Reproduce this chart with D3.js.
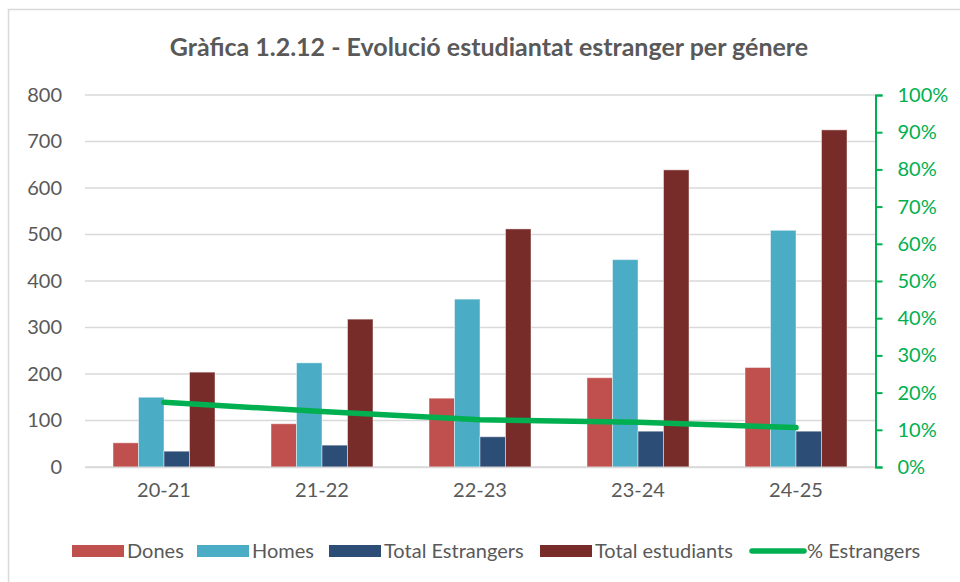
<!DOCTYPE html>
<head>
  <meta charset="utf-8">
  <script src="https://d3js.org/d3.v7.min.js"></script>
  <style>
    body { margin:0; background:#fff; }
    text { font-family: Lato, "Open Sans", sans-serif; fill:#595959; }
  </style>
</head>

<body>
  <script>
    // chart data
    var cursos = ["20-21", "21-22", "22-23", "23-24", "24-25"];
    var dones = [52, 93, 148, 192, 214];
    var homes = [150, 224, 361, 446, 509];
    var totalEstrangers = [34, 47, 65, 77, 77];
    var totalEstudiants = [204, 318, 512, 639, 725];
    var pctEstrangers = [0.174, 0.149, 0.127, 0.12, 0.106];
    var leftTicks = [0, 100, 200, 300, 400, 500, 600, 700, 800];
    var rightTicks = [0, 0.1, 0.2, 0.3, 0.4, 0.5, 0.6, 0.7, 0.8, 0.9, 1];

    var series = [
      {name: "Dones", values: dones, color: "#C0504D"},
      {name: "Homes", values: homes, color: "#4BACC6"},
      {name: "Total Estrangers", values: totalEstrangers, color: "#2C4D75"},
      {name: "Total estudiants", values: totalEstudiants, color: "#772C2A"}
    ];

    var svg = d3.select("body").append("svg")
      .attr("width", 960)
      .attr("height", 582)

    // chart area border (only left and top show)
    svg.append("rect")
      .attr("x", 8.5).attr("y", 9.5)
      .attr("width", 1000).attr("height", 700)
      .attr("fill", "none").attr("stroke", "#D9D9D9").attr("stroke-width", 1.5)

    var x0 = d3.scaleBand().domain(cursos).range([85, 875]).padding(0)
    var groupW = 102
    var x1 = d3.scaleBand().domain(series.map(function(s){ return s.name })).range([0, groupW])
    var y = d3.scaleLinear().domain([0, 800]).range([467, 95])
    var yR = d3.scaleLinear().domain([0, 1]).range([467, 95])

    // gridlines
    svg.append("g").selectAll("line")
      .data(leftTicks)
      .enter().append("line")
      .attr("x1", 85).attr("x2", 875)
      .attr("y1", function(d){ return y(d) }).attr("y2", function(d){ return y(d) })
      .attr("stroke", "#D9D9D9").attr("stroke-width", 1.5)

    // left axis
    var gl = svg.append("g").attr("transform", "translate(85,0)")
      .call(d3.axisLeft(y).tickValues(leftTicks).tickSize(0).tickPadding(23))
    gl.select(".domain").remove()
    gl.selectAll("text").style("font-size", "20px").attr("fill", "#595959")

    // bars
    series.forEach(function(s){
      svg.append("g").selectAll("rect")
        .data(s.values)
        .enter().append("rect")
        .attr("x", function(d, i){ return x0(cursos[i]) + (x0.bandwidth() - groupW) / 2 + x1(s.name) })
        .attr("y", function(d){ return y(d) })
        .attr("width", x1.bandwidth())
        .attr("height", function(d){ return y(0) - y(d) })
        .attr("fill", s.color)
        .attr("stroke", "rgba(255,255,255,0.45)").attr("stroke-width", 1)
    })

    // bottom axis
    var gb = svg.append("g").attr("transform", "translate(0,467)")
      .call(d3.axisBottom(x0).tickSize(0).tickPadding(16))
    gb.select(".domain").attr("stroke", "#D9D9D9").attr("stroke-width", 1.5)
    gb.selectAll("text").style("font-size", "20px").attr("fill", "#595959")

    // line % Estrangers
    var line = d3.line()
      .x(function(d, i){ return x0(cursos[i]) + x0.bandwidth() / 2 })
      .y(function(d){ return yR(d) })
    svg.append("path")
      .datum(pctEstrangers)
      .attr("d", line)
      .attr("fill", "none")
      .attr("stroke", "#00B050").attr("stroke-width", 5.5)
      .attr("stroke-linecap", "round").attr("stroke-linejoin", "round")

    // right axis
    var gr = svg.append("g").attr("transform", "translate(875.5,0)")
      .call(d3.axisRight(yR).tickValues(rightTicks).tickFormat(d3.format(".0%")).tickSizeOuter(0).tickSize(7).tickPadding(15))
    gr.select(".domain").attr("stroke", "#00B050").attr("stroke-width", 2)
    gr.selectAll(".tick line").attr("stroke", "#00B050").attr("stroke-width", 2)
    gr.selectAll("text").style("font-size", "20px").style("fill", "#00B050")

    // title
    svg.append("text")
      .attr("x", 489).attr("y", 56)
      .attr("text-anchor", "middle")
      .style("font-size", "25px").style("font-weight", "bold")
      .text("Gràfica 1.2.12 - Evolució estudiantat estranger per génere")

    // legend
    var legend = [
      {name: "Dones", color: "#C0504D", x: 72, type: "rect"},
      {name: "Homes", color: "#4BACC6", x: 197, type: "rect"},
      {name: "Total Estrangers", color: "#2C4D75", x: 329, type: "rect"},
      {name: "Total estudiants", color: "#772C2A", x: 540, type: "rect"},
      {name: "% Estrangers", color: "#00B050", x: 750, type: "line"}
    ]
    var lg = svg.append("g").selectAll("g")
      .data(legend)
      .enter().append("g")
      .attr("transform", function(d){ return "translate(" + d.x + ",551)" })
    lg.filter(function(d){ return d.type == "rect" }).append("rect")
      .attr("x", 0).attr("y", -6).attr("width", 52).attr("height", 12)
      .attr("fill", function(d){ return d.color })
    lg.filter(function(d){ return d.type == "line" }).append("line")
      .attr("x1", 2).attr("x2", 54).attr("y1", 0).attr("y2", 0)
      .attr("stroke", function(d){ return d.color }).attr("stroke-width", 5.5)
      .attr("stroke-linecap", "round")
    lg.append("text")
      .attr("x", function(d){ return d.type == "line" ? 57 : 55 })
      .attr("y", 7)
      .style("font-size", "20px")
      .text(function(d){ return d.name })

  </script>
</body>
